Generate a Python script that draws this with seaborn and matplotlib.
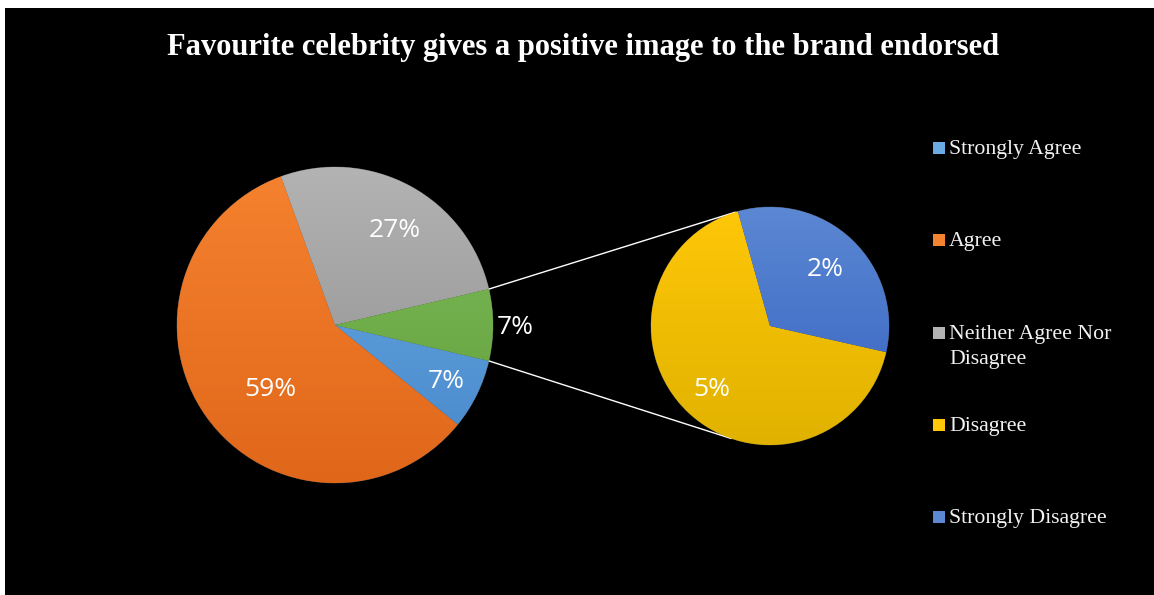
import numpy as np
import matplotlib
matplotlib.use("Agg")
import matplotlib.pyplot as plt
from matplotlib.patches import Rectangle
from matplotlib.colors import to_rgb
import seaborn as sns

title = "Favourite celebrity gives a positive image to the brand endorsed"
categories = ["Strongly Agree", "Agree", "Neither Agree Nor\nDisagree", "Disagree", "Strongly Disagree"]
percent = [7.2, 58.6, 26.9, 4.9, 2.4]

# (top, bottom) gradient colours, Office style
grad_colors = [("#6AABE4", "#4787CA"), ("#F5822F", "#E0671A"), ("#B3B3B3", "#8C8C8C"),
               ("#FFC708", "#E0B200"), ("#5B87D3", "#3562C0")]
other_grad = ("#80BC5E", "#5F9E37")

sns.set_style("dark")
plt.rcParams['font.family'] = ['Liberation Serif', 'DejaVu Serif']

W, H = 1154, 595
fig = plt.figure(figsize=(W / 100, H / 100), dpi=100, facecolor="white")
fig.patches.append(Rectangle((5 / W, 0), 1 - 5 / W, 1 - 8 / H, transform=fig.transFigure,
                             facecolor="black", edgecolor="none", zorder=-10))
ax = fig.add_axes([0, 0, 1, 1])
ax.set_facecolor("none")

c1, r1 = (335, H - 325), 158
c2, r2 = (770, H - 326), 119

main_vals = percent[:3] + [sum(percent[3:])]
sub_vals = percent[3:]
start1 = -main_vals[3] * 3.6 / 2

w1, _ = ax.pie(main_vals, startangle=start1, counterclock=False, center=c1, radius=r1,
               colors=[g[1] for g in grad_colors[:3]] + [other_grad[1]],
               wedgeprops=dict(linewidth=0.5, edgecolor="#444444"))
w2, _ = ax.pie(sub_vals, startangle=-12.7, counterclock=False, center=c2, radius=r2,
               colors=[g[1] for g in grad_colors[3:]],
               wedgeprops=dict(linewidth=0.5, edgecolor="#444444"))


def shade(wedges, center, r, cols):
    t = np.linspace(0, 1, 256)[:, None, None]
    for w, (top, bot) in zip(wedges, cols):
        img = np.array(to_rgb(top)) * (1 - t) + np.array(to_rgb(bot)) * t
        im = ax.imshow(img, extent=[center[0] - r, center[0] + r, center[1] - r, center[1] + r],
                       origin="upper", aspect="auto", zorder=2, interpolation="bilinear")
        im.set_clip_path(w)


shade(w1, c1, r1, grad_colors[:3] + [other_grad])
shade(w2, c2, r2, grad_colors[3:])

# percentage labels: (distance as fraction of radius, angle override or None)
lab_font = dict(family="Open Sans", size=19, color="white", ha="center", va="center", zorder=5)
main_lab = [(0.785, None), (0.57, -136), (0.72, 58), (1.14, None)]
sub_lab = [(0.714, None), (0.68, None)]


def put_labels(wedges, vals, center, r, places):
    for w, v, (d, ang) in zip(wedges, vals, places):
        a = np.deg2rad((w.theta1 + w.theta2) / 2 if ang is None else ang)
        ax.text(center[0] + d * r * np.cos(a), center[1] + d * r * np.sin(a) - 2, f"{v:.0f}%", **lab_font)


put_labels(w1, main_vals, c1, r1, main_lab)
put_labels(w2, sub_vals, c2, r2, sub_lab)

# connector lines from the "other" slice to the second pie
ow = w1[3]
for ang_a, ang_b in [(ow.theta2, 107), (ow.theta1, -109)]:
    pa, pb = np.deg2rad(ang_a), np.deg2rad(ang_b)
    ax.plot([c1[0] + r1 * np.cos(pa), c2[0] + r2 * np.cos(pb)],
            [c1[1] + r1 * np.sin(pa), c2[1] + r2 * np.sin(pb)], color="white", lw=1, zorder=1)

ax.set_xlim(0, W)
ax.set_ylim(0, H)
ax.set_aspect("equal")
ax.set_axis_off()

fig.text(583 / W, 1 - 48 / H, title, ha="center", va="center", color="white",
         fontsize=22, fontweight="bold")

# legend
leg_cols = [g[0] for g in grad_colors]
for i, (lab, col) in enumerate(zip(categories, leg_cols)):
    yc = 148 + i * 92.3
    fig.patches.append(Rectangle((933 / W, 1 - (yc + 6) / H), 12 / W, 12 / H, transform=fig.transFigure,
                                 facecolor=col, edgecolor="none"))
    for j, line in enumerate(lab.split("\n")):
        fig.text(949 / W, 1 - (yc + 1.5 + j * 25) / H, line, ha="left", va="center",
                 color="#F2F2F2", fontsize=15.7)

fig.savefig("out.png", dpi=100, facecolor=fig.get_facecolor())
